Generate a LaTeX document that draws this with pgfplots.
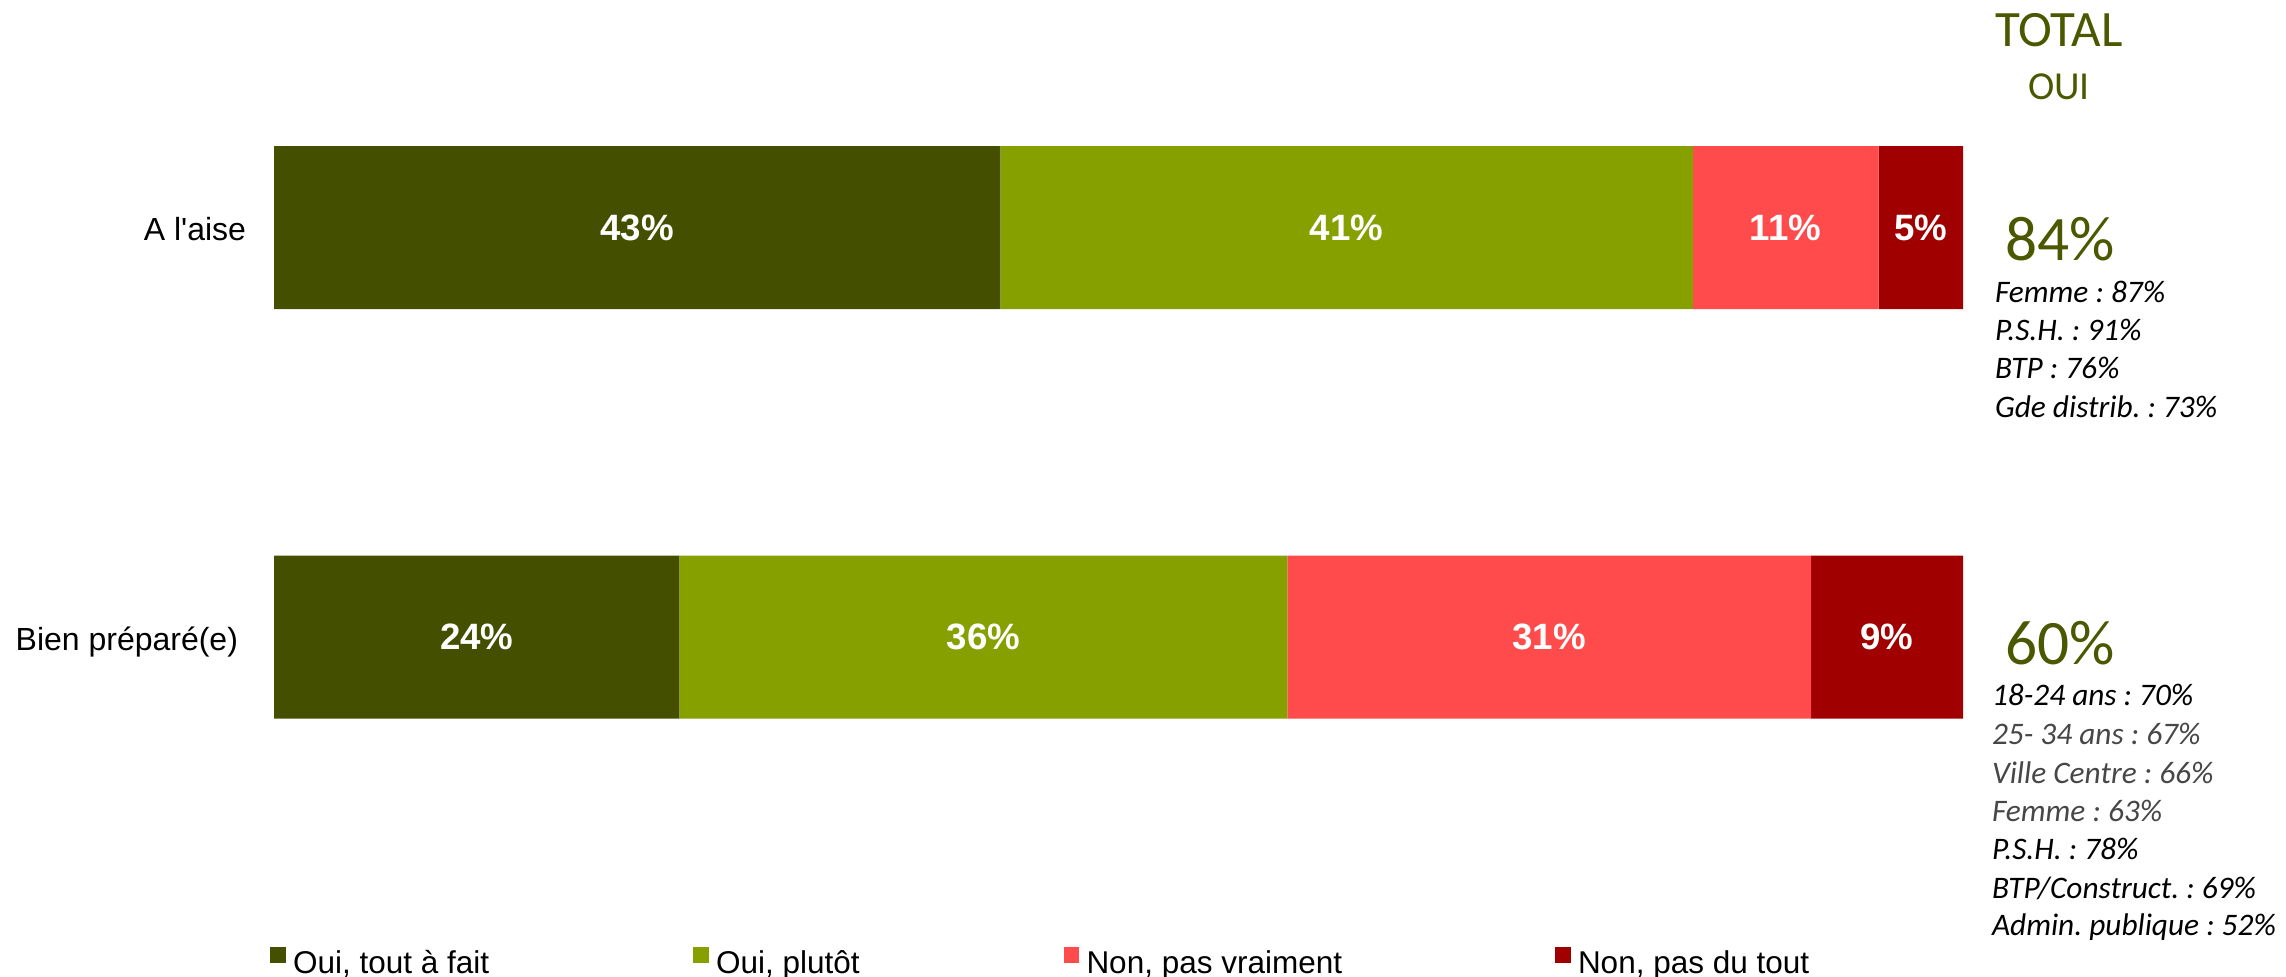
\documentclass[border=0pt]{standalone}
\usepackage{pgfplots}
\pgfplotsset{compat=1.18}
\usepackage{pgfplotstable}
\usepackage{fontspec}
\setmainfont{Liberation Sans}
\newfontfamily\arialplain{Liberation Sans}
\newfontfamily\calibri{Carlito}
\definecolor{c1}{HTML}{445000}
\definecolor{c2}{HTML}{86A000}
\definecolor{c3}{HTML}{FF4B4B}
\definecolor{c4}{HTML}{A00000}
\definecolor{tot}{HTML}{4B5800}
\frenchspacing

\pgfplotstableread{
y a b c d
227.5 43 41 11 5
637 24 36 31 9
}\data

\begin{document}
\frenchspacing
\begin{tikzpicture}
\pgfplotsset{base/.style={
  scale only axis, width=685.8pt, height=292.8pt,
  xmin=-16.223, xmax=119.124, ymin=0, ymax=976, y dir=reverse,
  hide axis, clip=false, at={(0pt,0pt)}, anchor=north west}}
\begin{axis}[base, xbar stacked, bar width=48.9pt,
  legend columns=4,
  legend image code/.code={\fill[#1,draw=none] (0pt,0.5pt) rectangle (4.7pt,5.2pt);},
  legend style={draw=none, fill=none, inner sep=0pt, outer sep=0pt,
    at={(axis cs:-0.237,963)}, anchor=west,
    font=\fontsize{9.45}{11}\selectfont,
    /tikz/every even column/.append style={column sep=0pt},
    /tikz/every odd column/.append style={column sep=0pt},
    nodes={inner sep=0pt}},
  legend cell align=left]
\addplot[fill=c1, draw=none] table[x=a, y=y] {\data};
\addlegendentry{\makebox[122.2pt][l]{\hspace*{2.2pt}Oui, tout à fait}}
\addplot[fill=c2, draw=none] table[x=b, y=y] {\data};
\addlegendentry{\makebox[106.45pt][l]{\hspace*{2.2pt}Oui, plutôt}}
\addplot[fill=c3, draw=none] table[x=c, y=y] {\data};
\addlegendentry{\makebox[142.75pt][l]{\hspace*{2.2pt}Non, pas vraiment}}
\addplot[fill=c4, draw=none] table[x=d, y=y] {\data};
\addlegendentry{\hspace*{2.2pt}Non, pas du tout}
\end{axis}

\begin{axis}[base,
  /pgf/number format/assume math mode=true,
  nodes near coords={\pgfmathprintnumber{\pgfplotspointmeta}\%},
  point meta=explicit, nodes near coords align=center,
  every node near coord/.append style={text=white, inner sep=0pt, font=\bfseries\fontsize{11}{13}\selectfont}]
\addplot[draw=none, mark=none] table[x expr=\thisrow{a}/2, y=y, meta=a] {\data};
\addplot[draw=none, mark=none] table[x expr=\thisrow{a}+\thisrow{b}/2, y=y, meta=b] {\data};
\addplot[draw=none, mark=none] table[x expr=\thisrow{a}+\thisrow{b}+\thisrow{c}/2, y=y, meta=c] {\data};
\addplot[draw=none, mark=none] table[x expr=\thisrow{a}+\thisrow{b}+\thisrow{c}+\thisrow{d}/2, y=y, meta=d] {\data};
\end{axis}

\begin{scope}[x=0.3pt, y=-0.3pt, every node/.style={inner sep=0pt, outer sep=0pt}]
\node[anchor=base east, font=\arialplain\fontsize{9.6}{11}\selectfont] at (246,240) {A l'aise};
\node[anchor=base east, font=\fontsize{9.6}{11}\selectfont] at (238,650) {Bien préparé(e)};

\node[anchor=base west, text=tot, font=\calibri\fontsize{15.3}{17}\selectfont] at (1995,46) {TOTAL};
\node[anchor=base west, text=tot, font=\calibri\fontsize{11.9}{14}\selectfont] at (2028,99) {OUI};

\node[anchor=base west, text=tot, font=\calibri\fontsize{19}{22}\selectfont] at (2005,260) {84\%};
\begin{scope}[every node/.append style={anchor=base west, font=\calibri\itshape\fontsize{9.4}{11}\selectfont}]
\node at (1995,302) {Femme : 87\%};
\node at (1995,340) {P.S.H. : 91\%};
\node at (1995,378) {BTP : 76\%};
\node at (1995,417) {Gde distrib. : 73\%};
\end{scope}

\node[anchor=base west, text=tot, font=\calibri\fontsize{19}{22}\selectfont] at (2005,664) {60\%};
\begin{scope}[every node/.append style={anchor=base west, font=\calibri\itshape\fontsize{9.4}{11}\selectfont}]
\node at (1992,705) {18-24 ans : 70\%};
\node[text=black!72] at (1992,744) {25- 34 ans : 67\%};
\node[text=black!72] at (1992,783) {Ville Centre : 66\%};
\node[text=black!72] at (1992,821) {Femme : 63\%};
\node at (1992,859) {P.S.H. : 78\%};
\node at (1992,898) {BTP/Construct. : 69\%};
\node at (1992,935) {Admin. publique : 52\%};
\end{scope}
\end{scope}

\pgfresetboundingbox
\path[use as bounding box] (0pt,0pt) rectangle (685.8pt,-292.8pt);
\end{tikzpicture}
\end{document}
